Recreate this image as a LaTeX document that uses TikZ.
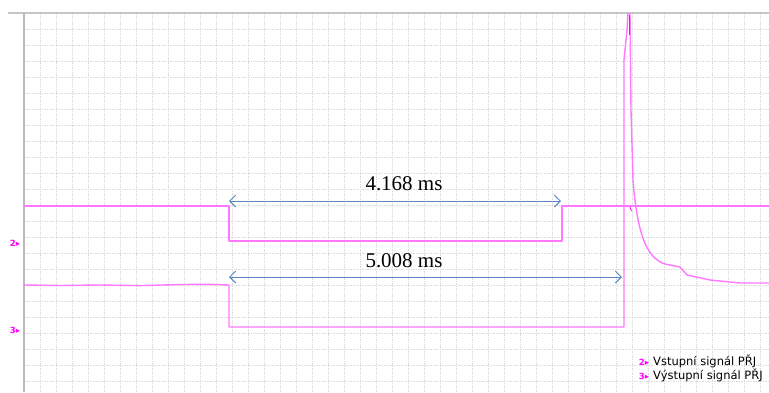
\documentclass[tikz,border=0pt]{standalone}
\usepackage{fontspec}
\setmainfont{Liberation Serif}
\newfontfamily\legendfont{DejaVu Sans}
\usetikzlibrary{arrows.meta}
\definecolor{trace}{HTML}{FF78FF}
\definecolor{tracemark}{HTML}{FF00FF}
\definecolor{measblue}{HTML}{5B86C2}
\begin{document}
\begin{tikzpicture}[x=1pt,y=-1pt,
    gridline/.style={gray!28,densely dotted,line width=0.7pt},
    sig/.style={trace,line width=1.4pt,line join=round},
    meas/.style={measblue,line width=1pt,
      {Straight Barb[length=6pt,width=12pt]}-{Straight Barb[length=6pt,width=12pt]}},
    msr/.style={font=\fontsize{21}{24}\selectfont,inner sep=1pt},
    chmark/.style={text=tracemark,font=\legendfont\bfseries\fontsize{8.5}{9}\selectfont,inner sep=0pt},
    legend/.style={font=\legendfont\fontsize{11.5}{13}\selectfont,inner sep=0pt,anchor=west}]
  \useasboundingbox (0,0) rectangle (769,392);
  \fill[white] (0,0) rectangle (769,392);
  \foreach \x in {40,56,...,760} {
    \draw[gridline] (\x,14) -- (\x,392);
  }
  \foreach \y in {29,45,...,381} {
    \draw[gridline] (25,\y) -- (769,\y);
  }
  \draw[gray!45,line width=1.5pt] (8,13) -- (769,13);
  \draw[gray!55,line width=2pt] (24,13) -- (24,392);

  \draw[sig] (24,206) -- (229,206) -- (229,241) -- (562,241) -- (562,206) -- (769,206);
  \draw[sig] (24,285) -- (60,285.5) -- (100,285) -- (140,285.6) -- (180,284.5)
    -- (210,284.3) -- (229,285) -- (229,327) -- (624,327) -- (624,60) -- (627,30) -- (628,13);
  \draw[sig] (630,13) -- (631,110) -- (633,180)
    .. controls (637,232) and (646,258) .. (665,264) -- (680,267) -- (687,275)
    -- (710,280) -- (740,283) -- (769,283);
  \draw[tracemark,line width=1pt] (629,15) -- (629,35);
  \draw[tracemark,line width=0.8pt] (630,207) -- (631.5,211);

  \coordinate (in-fall) at (229,201);
  \coordinate (in-rise) at (561,201);
  \coordinate (out-fall) at (229,277);
  \coordinate (out-rise) at (622,277);
  \draw[meas] (in-fall) -- (in-rise);
  \draw[meas] (out-fall) -- (out-rise);
  \node[msr] (tin) at (404,184) {4.168 ms};
  \node[msr] (tout) at (404,261) {5.008 ms};

  \node[chmark] (ch2) at (15,243) {2▸};
  \node[chmark] (ch3) at (15,330) {3▸};
  \node[chmark] (key2) at (644,362) {2▸};
  \node[chmark] (key3) at (644,376) {3▸};
  \node[legend] (keytxt2) at (653,361) {Vstupní signál PŘJ};
  \node[legend] (keytxt3) at (653,375) {Výstupní signál PŘJ};
\end{tikzpicture}
\end{document}
